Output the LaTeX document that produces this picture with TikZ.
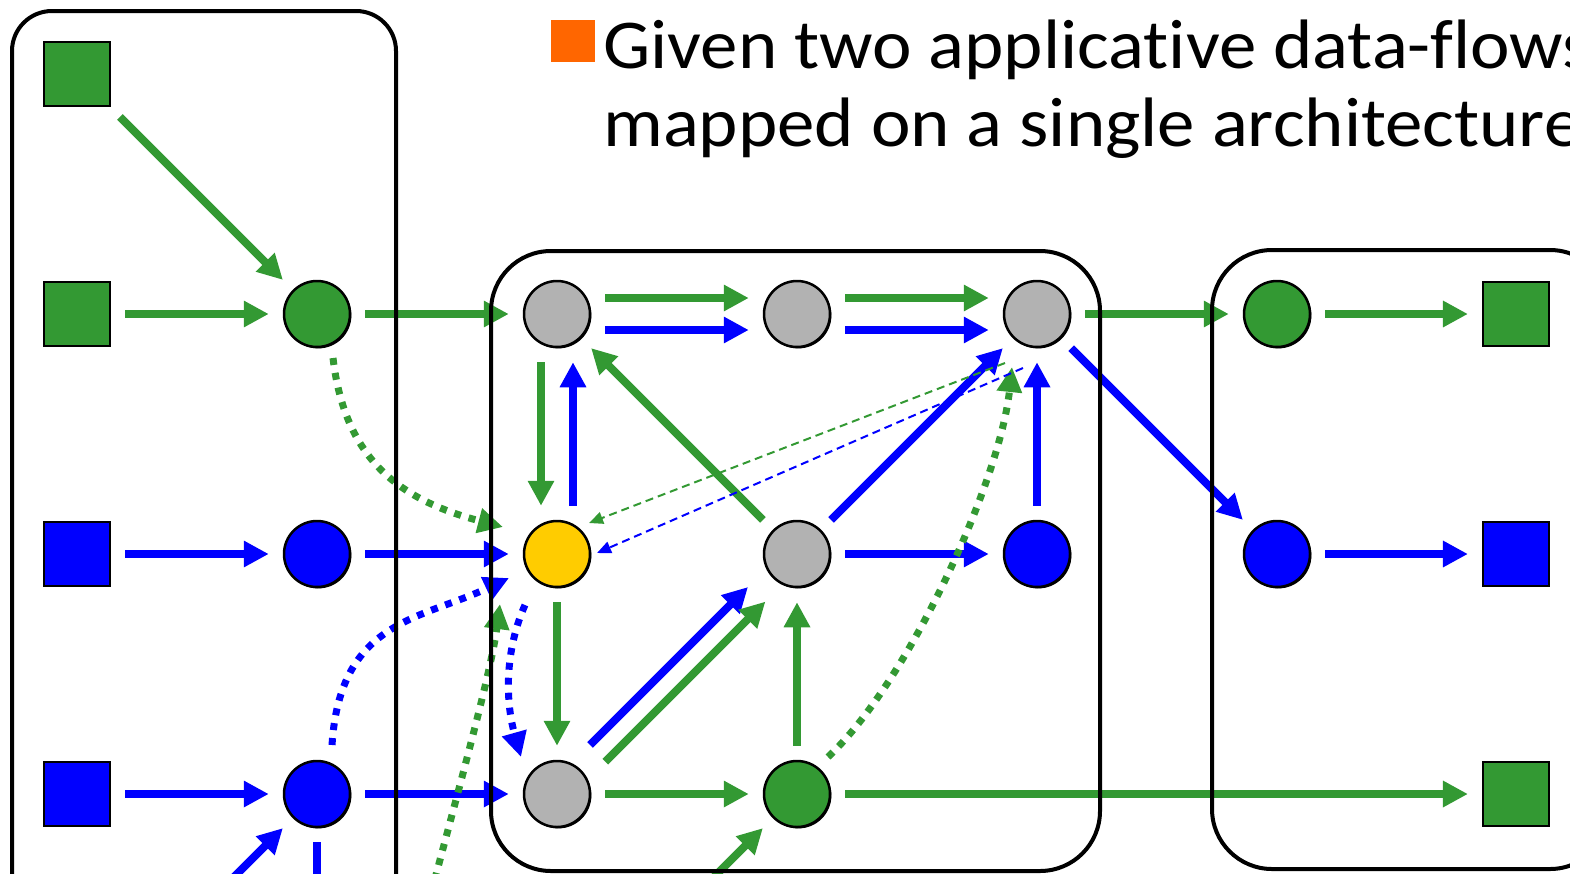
\documentclass[tikz,border=0pt]{standalone}
\usepackage{fontspec}
\setmainfont{Carlito}[Ligatures=NoCommon]
\usetikzlibrary{arrows.meta,calc,shadows}
\definecolor{flowgreen}{HTML}{339933}
\definecolor{flowblue}{HTML}{0000FF}
\definecolor{nodegray}{HTML}{B2B2B2}
\definecolor{nodeyellow}{HTML}{FFCC00}
\definecolor{bulletorange}{HTML}{FF6600}
\begin{document}
\begin{tikzpicture}[x=1pt,y=-1pt,
  shade/.style={drop shadow={shadow xshift=1.4pt,shadow yshift=-1.4pt,fill=black,opacity=1}},
  dotnode/.style={circle,draw=black,line width=2.5pt,minimum size=66pt,inner sep=0pt,shade},
  gdot/.style={dotnode,fill=flowgreen},
  bdot/.style={dotnode,fill=flowblue},
  ydot/.style={dotnode,fill=nodeyellow},
  graydot/.style={dotnode,fill=nodegray},
  sqnode/.style={rectangle,draw=black,line width=2.2pt,minimum width=66pt,minimum height=64pt,inner sep=0pt,shade},
  gsq/.style={sqnode,fill=flowgreen},
  bsq/.style={sqnode,fill=flowblue},
  flow/.style={line width=8pt,-{Triangle[length=25pt,width=25pt]},shorten <=14pt,shorten >=14pt},
  garrow/.style={flow,flowgreen},
  barrow/.style={flow,flowblue},
  dotflow/.style={line width=7pt,dash pattern=on 7pt off 8pt,-{Triangle[length=25pt,width=24pt]}},
  gdots/.style={dotflow,flowgreen},
  bdots/.style={dotflow,flowblue},
  thinflow/.style={line width=2pt,dash pattern=on 8pt off 5pt,-{Triangle[length=14pt,width=12pt]}},
  gthin/.style={thinflow,flowgreen},
  bthin/.style={thinflow,flowblue},
  frame/.style={draw=black,line width=4pt},
  title/.style={anchor=base west,inner sep=0pt,xscale=1.07,font=\fontsize{70}{80}\selectfont}
]
\useasboundingbox (0,0) rectangle (1570,873);
\clip (0,0) rectangle (1570,873);

% title with bullet
\fill[bulletorange] (551,20) rectangle (595,62);
\node[title] (line1) at (603,68) {Given two applicative data-flows};
\node[title] (line2) at (603,146) {mapped on a single architecture};

% sources
\node[gsq] (S1) at (77,74) {};
\node[gsq] (S2) at (77,314) {};
\node[bsq] (S3) at (77,554) {};
\node[bsq] (S4) at (77,794) {};
\node[gdot] (A) at (317,314) {};
\node[bdot] (B) at (317,554) {};
\node[bdot] (C) at (317,794) {};

% shared architecture
\node[graydot] (G1) at (557,314) {};
\node[graydot] (G2) at (797,314) {};
\node[graydot] (G3) at (1037,314) {};
\node[ydot] (Y) at (557,554) {};
\node[graydot] (G4) at (797,554) {};
\node[bdot] (Bl) at (1037,554) {};
\node[graydot] (G5) at (557,794) {};
\node[gdot] (Gr) at (797,794) {};

% sinks
\node[gdot] (R1) at (1277,314) {};
\node[bdot] (R2) at (1277,554) {};
\node[gsq] (T1) at (1516,314) {};
\node[bsq] (T2) at (1516,554) {};
\node[gsq] (T3) at (1516,794) {};

% continuation below the view
\coordinate (lowA) at (77,1034);
\coordinate (lowB) at (317,1034);
\coordinate (lowC) at (557,1034);
\coordinate (lowD) at (400,1010);

% solid flows
\draw[garrow] (S1) -- (A);
\draw[garrow] (S2) -- (A);
\draw[barrow] (S3) -- (B);
\draw[barrow] (S4) -- (C);
\draw[garrow] (A) -- (G1);
\draw[barrow] (B) -- (Y);
\draw[barrow] (C) -- (G5);
\draw[barrow] (lowA) -- (C);
\draw[barrow] (C) -- (lowB);
\draw[garrow] (lowC) -- (Gr);

\draw[garrow] ([xshift=-16pt]G1.south) -- ([xshift=-16pt]Y.north);
\draw[barrow] ([xshift=16pt]Y.north) -- ([xshift=16pt]G1.south);
\draw[garrow] ([yshift=16pt]G1.east) -- ([yshift=16pt]G2.west);
\draw[barrow] ([yshift=-16pt]G1.east) -- ([yshift=-16pt]G2.west);
\draw[garrow] ([yshift=16pt]G2.east) -- ([yshift=16pt]G3.west);
\draw[barrow] ([yshift=-16pt]G2.east) -- ([yshift=-16pt]G3.west);
\draw[garrow] (G4) -- (G1);
\draw[barrow] (G4) -- (G3);
\draw[barrow] (G4) -- (Bl);
\draw[barrow] (Bl) -- (G3);
\draw[garrow] (Y) -- (G5);
\draw[barrow,shorten <=58pt,shorten >=58pt] ($(G5)+(-8,-8)$) -- ($(G4)+(-8,-8)$);
\draw[garrow,shorten <=57pt,shorten >=56pt] ($(G5)+(8,8)$) -- ($(G4)+(8,8)$);
\draw[garrow] (G5) -- (Gr);
\draw[garrow] (Gr) -- (G4);
\draw[garrow] (Gr) -- (T3);
\draw[garrow] (G3) -- (R1);
\draw[barrow] (G3) -- (R2);
\draw[garrow] (R1) -- (T1);
\draw[barrow] (R2) -- (T2);

% dotted flows
\draw[gdots] ($(A)+(16,44)$) .. controls ($(A)+(28,146)$) and ($(Y)+(-157,-54)$) .. ($(Y)+(-54,-27)$);
\draw[bdots] ($(C)+(15,-49)$) .. controls ($(C)+(23,-174)$) and ($(Y)+(-137,66)$) .. ($(Y)+(-48,24)$);
\draw[bdots] ($(Y)+(-32,51)$) .. controls ($(Y)+(-52,96)$) and ($(G5)+(-52,-94)$) .. ($(G5)+(-36,-37)$);
\draw[gdots] (lowD) .. controls ($(Y)+(-107,266)$) and ($(Y)+(-67,126)$) .. ($(Y)+(-57,50)$);
\draw[gdots] ($(Gr)+(31,-37)$) .. controls ($(Gr)+(113,-114)$) and ($(G3)+(-37,166)$) .. ($(G3)+(-25,53)$);

% thin dashed flows
\draw[gthin] ($(G3)+(-32,49)$) -- ($(Y)+(32,-31)$);
\draw[bthin] ($(G3)+(-14,54)$) -- ($(Y)+(40,-1)$);

% processing elements
\draw[frame,rounded corners=40pt] (12,11) rectangle (396,1100);
\draw[frame,rounded corners=60pt] (491,251) rectangle (1100,871);
\draw[frame,rounded corners=60pt] (1212,250) rectangle (1610,869);
\end{tikzpicture}
\end{document}
